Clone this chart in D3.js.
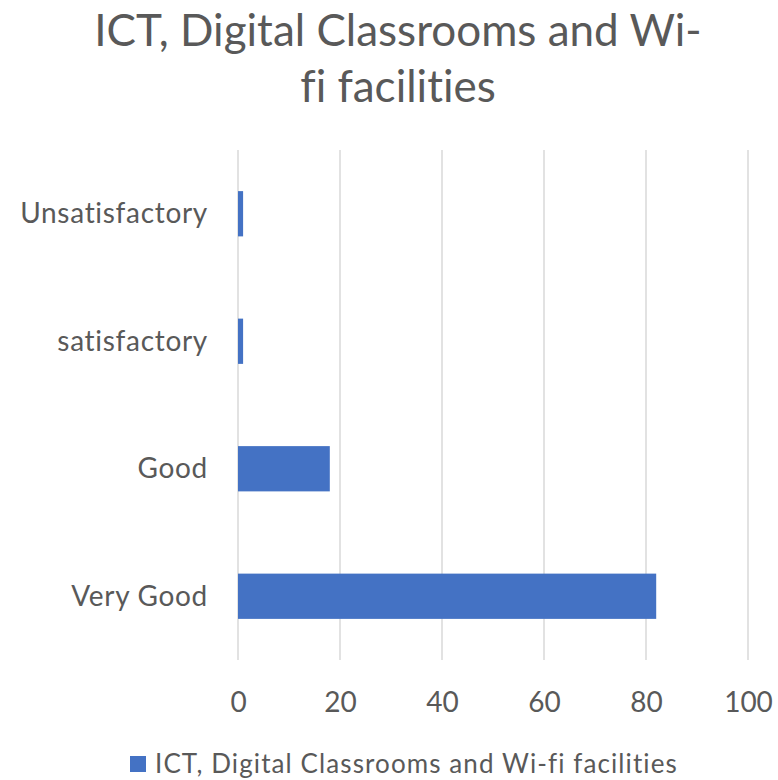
<!doctype html>
<html lang="en">
<head>
    <title></title>
    <script src="https://d3js.org/d3.v7.min.js"></script>
    <style type="text/css">
    body { margin: 0; background: #fff; }
    text { font-family: Lato, "Open Sans", sans-serif; fill: #595959; font-variant-ligatures: none; }
    </style>
</head>
<body>
</body>
<script type="text/javascript">

    var categories = ["Unsatisfactory", "satisfactory", "Good", "Very Good"];
    var values     = [1, 1, 18, 82];
    var xTicks     = [0, 20, 40, 60, 80, 100];
    var seriesName = "ICT, Digital Classrooms and Wi-fi facilities";
    var titleLines = ["ICT, Digital Classrooms and Wi-", "fi facilities"];

    var W = 778, H = 780;
    var plot = {left: 238, right: 748, top: 150, bottom: 660};

    var data = categories.map((c, i) => ({cat: c, val: values[i]}));

    var xScale = d3.scaleLinear()
                .domain([0, 100])
                .range([plot.left, plot.right]);

    var yScale = d3.scaleBand()
                .domain(categories)
                .range([plot.top, plot.bottom])
                .paddingInner(0.645)
                .paddingOuter(0.3225);

    var svg = d3.select("body")
    .append("svg")
    .attr("width", W)
    .attr("height", H);

    // title
    svg.append("g").selectAll("text")
    .data(titleLines)
    .enter()
    .append("text")
    .attr("x", 398)
    .attr("y", (d, i) => 46 + i * 56)
    .attr("text-anchor", "middle")
    .style("font-size", "44px")
    .text(d => d);

    // gridlines
    svg.append("g").selectAll("line")
    .data(xTicks)
    .enter()
    .append("line")
    .attr("x1", d => xScale(d))
    .attr("x2", d => xScale(d))
    .attr("y1", plot.top)
    .attr("y2", plot.bottom)
    .attr("stroke", "#d9d9d9")
    .attr("stroke-width", 1.5);

    // bars
    svg.selectAll(".bar")
    .data(data)
    .enter()
    .append("rect")
    .attr("class", "bar")
    .attr("x", xScale(0))
    .attr("y", d => yScale(d.cat))
    .attr("width", d => xScale(d.val) - xScale(0))
    .attr("height", yScale.bandwidth())
    .attr("fill", "#4472c4");

    // x axis labels
    var xAxis = svg.append("g")
    .attr("transform", "translate(0,712)")
    .call(d3.axisBottom(xScale).tickValues(xTicks).tickSize(0).tickPadding(0));
    xAxis.select(".domain").remove();
    xAxis.selectAll("text")
    .attr("y", 0)
    .attr("dy", 0)
    .style("font-size", "28px")
    .style("font-family", "Lato, sans-serif")
    .attr("fill", "#595959");

    // y axis labels
    var yAxis = svg.append("g")
    .attr("transform", "translate(" + (plot.left - 30) + ",0)")
    .call(d3.axisLeft(yScale).tickSize(0).tickPadding(0));
    yAxis.select(".domain").remove();
    yAxis.selectAll("text")
    .attr("dy", "0.34em")
    .style("font-size", "28px")
    .style("letter-spacing", "0.7px")
    .style("font-family", "Lato, sans-serif")
    .attr("fill", "#595959");

    // legend
    var legend = svg.append("g");
    legend.append("rect")
    .attr("x", 130)
    .attr("y", 756)
    .attr("width", 16)
    .attr("height", 16)
    .attr("fill", "#4472c4");
    legend.append("text")
    .attr("x", 155)
    .attr("y", 773)
    .style("font-size", "26px")
    .style("letter-spacing", "1.1px")
    .text(seriesName);

</script>
</html>
